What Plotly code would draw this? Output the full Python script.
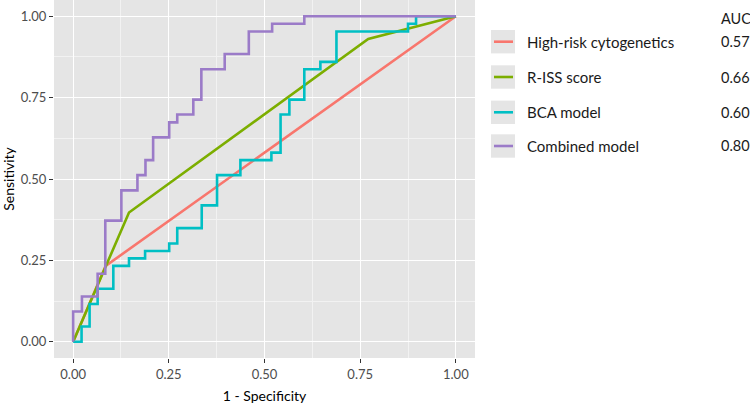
import plotly.graph_objects as go

# ---- data ----
hr_fpr = [0.0, 0.085, 1.0]
hr_tpr = [0.0, 0.233, 1.0]

riss_fpr = [0.0, 0.146, 0.771, 1.0]
riss_tpr = [0.0, 0.397, 0.930, 1.0]

bca_fpr = [0.0, 0.022, 0.043, 0.064, 0.105, 0.146, 0.188, 0.251, 0.272, 0.336, 0.376,
           0.437, 0.518, 0.542, 0.565, 0.604, 0.646, 0.688, 0.875, 0.896, 1.0]
bca_tpr = [0.0, 0.0, 0.047, 0.116, 0.163, 0.233, 0.256, 0.279, 0.302, 0.349, 0.419,
           0.512, 0.558, 0.581, 0.698, 0.744, 0.837, 0.860, 0.953, 0.977, 1.0]

comb_fpr = [0.0, 0.023, 0.064, 0.084, 0.126, 0.168, 0.189, 0.209, 0.251, 0.272, 0.314,
            0.335, 0.396, 0.459, 0.520, 0.604, 1.0]
comb_tpr = [0.0, 0.093, 0.139, 0.209, 0.372, 0.465, 0.512, 0.558, 0.628, 0.674, 0.698,
            0.744, 0.837, 0.884, 0.953, 0.977, 1.0]

labels = ["High-risk cytogenetics", "R-ISS score", "BCA model", "Combined model"]
auc_values = ["0.57", "0.66", "0.60", "0.80"]
colors = ["#F8766D", "#7CAE00", "#00BFC4", "#9B7BC8"]
tick_vals = [0.0, 0.25, 0.5, 0.75, 1.0]
tick_text = ["0.00", "0.25", "0.50", "0.75", "1.00"]

FONT = "Lato"
W, H = 750, 411
ML, MR, MT, MB = 54, 275, 0, 53
PW, PH = W - ML - MR, H - MT - MB


def px(x):
    return (x - ML) / PW


def py(y):
    return (PH + MT - y) / PH


fig = go.Figure()
series = [(hr_fpr, hr_tpr, "linear"), (riss_fpr, riss_tpr, "linear"),
          (bca_fpr, bca_tpr, "vh"), (comb_fpr, comb_tpr, "vh")]
for (xs, ys, shp), lab, col in zip(series, labels, colors):
    fig.add_trace(go.Scatter(x=xs, y=ys, mode="lines", name=lab,
                             line=dict(color=col, width=2.6, shape=shp),
                             showlegend=False))

axis_common = dict(
    range=[-0.05, 1.05], tickvals=tick_vals, ticktext=tick_text,
    showgrid=True, gridcolor="white", gridwidth=1.4,
    zeroline=False, showline=False,
    ticks="outside", ticklen=4, tickwidth=1.2, tickcolor="#333333",
    tickfont=dict(family=FONT, size=13, color="#4d4d4d"),
    minor=dict(tickvals=[0.125, 0.375, 0.625, 0.875], showgrid=True,
               gridcolor="#f2f2f2", gridwidth=0.6, ticks=""),
)
fig.update_xaxes(**axis_common, title=dict(text="1 - Specificity", standoff=10,
                 font=dict(family=FONT, size=14, color="black")))
fig.update_yaxes(**axis_common, title=dict(text="Sensitivity", standoff=6,
                 font=dict(family=FONT, size=14, color="black")))

# ---- manual legend (ggplot style) ----
shapes = []
annotations = []
row_centers = [41.7, 77.0, 112.3, 146.0]
for lab, auc, col, yc in zip(labels, auc_values, colors, row_centers):
    shapes.append(dict(type="rect", xref="paper", yref="paper",
                       x0=px(491), x1=px(515), y0=py(yc - 11.7), y1=py(yc + 11.7),
                       fillcolor="#e5e5e5", line=dict(width=0), layer="below"))
    shapes.append(dict(type="line", xref="paper", yref="paper",
                       x0=px(494), x1=px(513), y0=py(yc), y1=py(yc),
                       line=dict(color=col, width=2.6)))
    annotations.append(dict(text=lab, xref="paper", yref="paper", x=px(525), y=py(yc),
                            xanchor="left", yanchor="middle", showarrow=False,
                            font=dict(family=FONT, size=15, color="#1a1a1a")))
    annotations.append(dict(text=auc, xref="paper", yref="paper", x=px(719), y=py(yc),
                            xanchor="left", yanchor="middle", showarrow=False,
                            font=dict(family=FONT, size=14.5, color="#1a1a1a")))
annotations.append(dict(text="AUC", xref="paper", yref="paper", x=px(719), y=py(18),
                        xanchor="left", yanchor="middle", showarrow=False,
                        font=dict(family=FONT, size=14.5, color="#1a1a1a")))

fig.update_layout(
    width=W, height=H, margin=dict(l=ML, r=MR, t=MT, b=MB),
    plot_bgcolor="#e5e5e5", paper_bgcolor="white",
    shapes=shapes, annotations=annotations,
)
fig.write_html("out.html")
